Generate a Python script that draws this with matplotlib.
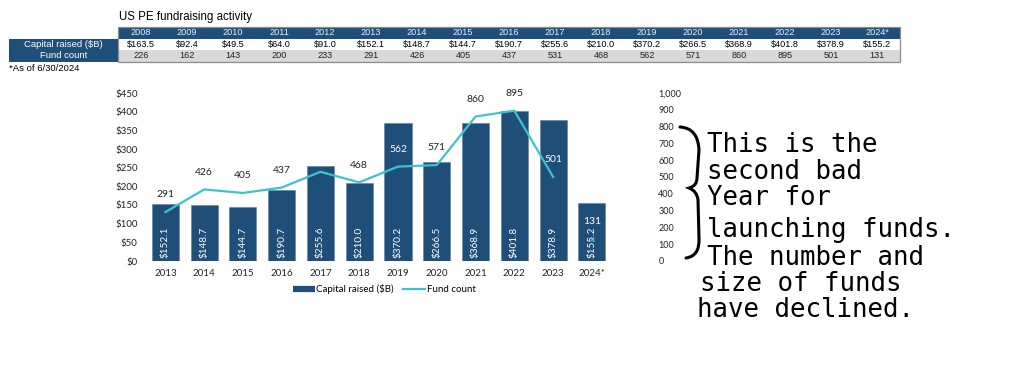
import matplotlib

matplotlib.use("Agg")
import matplotlib.pyplot as plt
from matplotlib.patches import Rectangle, PathPatch
from matplotlib.path import Path
from matplotlib.lines import Line2D
from matplotlib.ticker import FuncFormatter, MultipleLocator

# --------------------------------------------------------------------------- #
# data
# --------------------------------------------------------------------------- #
table_years = ["2008", "2009", "2010", "2011", "2012", "2013", "2014", "2015", "2016",
               "2017", "2018", "2019", "2020", "2021", "2022", "2023", "2024*"]
table_capital = [163.5, 92.4, 49.5, 64.0, 91.0, 152.1, 148.7, 144.7, 190.7,
                 255.6, 210.0, 370.2, 266.5, 368.9, 401.8, 378.9, 155.2]
table_funds = [226, 162, 143, 200, 233, 291, 426, 405, 437,
               531, 468, 562, 571, 860, 895, 501, 131]

chart_years = ["2013", "2014", "2015", "2016", "2017", "2018",
               "2019", "2020", "2021", "2022", "2023", "2024*"]
capital = [152.1, 148.7, 144.7, 190.7, 255.6, 210.0, 370.2, 266.5, 368.9, 401.8, 378.9, 155.2]
fund_count = [291, 426, 405, 437, 531, 468, 562, 571, 860, 895, 501, 131]
fund_labels = [291, 426, 405, 437, None, 468, 562, 571, 860, 895, 501, 131]

note_lines = ["This is the", "second bad", "Year for", "launching funds.",
              "The number and", "size of funds", "have declined."]

NAVY = "#1F4E79"
CYAN = "#3EC3CB"
GRAY = "#D9D9D9"
W, H = 1022, 390

fig = plt.figure(figsize=(W / 100, H / 100), dpi=100)

# overlay in pixel coordinates for the table and the hand note
bg = fig.add_axes([0, 0, 1, 1])
bg.set_xlim(0, W)
bg.set_ylim(H, 0)
bg.set_axis_off()

TF = "Liberation Sans"
bg.text(119, 17, "US PE fundraising activity", fontsize=8.3, family=TF,
        va="center", ha="left")

# table
lab_x0, lab_x1 = 9, 118
col_w = (900 - lab_x1) / len(table_years)
rows = [(27, 38.5), (38.5, 50), (50, 61.5)]
bg.add_patch(Rectangle((lab_x0, rows[1][0]), lab_x1 - lab_x0, rows[2][1] - rows[1][0],
                       color=NAVY, lw=0))
bg.text((lab_x0 + lab_x1) / 2, sum(rows[1]) / 2, "Capital raised ($B)", color="white",
        fontsize=6.8, family=TF, ha="center", va="center")
bg.text((lab_x0 + lab_x1) / 2, sum(rows[2]) / 2, "Fund count", color="white",
        fontsize=6.8, family=TF, ha="center", va="center")
bg.add_patch(Rectangle((lab_x1, rows[0][0]), 900 - lab_x1, rows[0][1] - rows[0][0],
                       color=NAVY, lw=0))
bg.add_patch(Rectangle((lab_x1, rows[2][0]), 900 - lab_x1, rows[2][1] - rows[2][0],
                       color=GRAY, lw=0))
bg.add_patch(Rectangle((lab_x1, rows[0][0]), 900 - lab_x1, rows[2][1] - rows[0][0],
                       fill=False, ec="#8C8C8C", lw=0.9))
for j, (yr, cap, fc) in enumerate(zip(table_years, table_capital, table_funds)):
    cx = lab_x1 + (j + 0.5) * col_w
    bg.text(cx, sum(rows[0]) / 2, yr, color="#E8EEF5", fontsize=6.6, family=TF,
            ha="center", va="center")
    bg.text(cx, sum(rows[1]) / 2, f"${cap:.1f}", fontsize=6.6, family=TF,
            ha="center", va="center")
    bg.text(cx, sum(rows[2]) / 2, f"{fc}", fontsize=6.6, family=TF,
            ha="center", va="center", color="#222222")
bg.text(9, 68.5, "*As of 6/30/2024", fontsize=6.8, family=TF, ha="left", va="center")

# --------------------------------------------------------------------------- #
# chart
# --------------------------------------------------------------------------- #
CF = "Lato"
left, right, top, bottom = 146, 650, 93, 261
ax = fig.add_axes([left / W, 1 - bottom / H, (right - left) / W, (bottom - top) / H])
x = list(range(len(chart_years)))
ax.bar(x, capital, width=0.7, color=NAVY, ec="#5B7FA6", lw=0.4, zorder=2)
ax.set_xlim(-0.5, 12.5)
ax.set_ylim(0, 450)
ax.yaxis.set_major_locator(MultipleLocator(50))
ax.yaxis.set_major_formatter(FuncFormatter(lambda v, p: f"${v:.0f}"))
ax.set_xticks(x, chart_years)
for s in ax.spines.values():
    s.set_visible(False)
ax.tick_params(length=0, labelsize=7, labelcolor="#222222")
ax.tick_params(axis="y", pad=6)
ax.tick_params(axis="x", pad=6)
for lab in ax.get_xticklabels() + ax.get_yticklabels():
    lab.set_family(CF)

for xi, v in zip(x, capital):
    ax.annotate(f"${v:.1f}", (xi, 0), xytext=(0, 2.5), textcoords="offset points",
                rotation=90, ha="center", va="bottom", color="white", fontsize=7.2,
                family=CF, zorder=4)

ax2 = ax.twinx()
ax2.set_ylim(0, 1000)
ax2.yaxis.set_major_locator(MultipleLocator(100))
ax2.yaxis.set_major_formatter(FuncFormatter(lambda v, p: f"{v:,.0f}"))
for s in ax2.spines.values():
    s.set_visible(False)
ax2.tick_params(length=0, labelsize=6.5, labelcolor="#222222", pad=6)
for lab in ax2.get_yticklabels():
    lab.set_family(CF)
ax2.plot(x[:-1], fund_count[:-1], color=CYAN, lw=1.6, zorder=3)
ax2.plot(x[-1], fund_count[-1], marker="x", color=CYAN, ms=2.5, mew=0.8)

OFF = 12.5  # label offset above the point, in points
for xi, v, cap in zip(x, fund_labels, capital):
    if v is None:
        continue
    # white if the label sits over its bar
    lab_level = v / 1000 * 450 + OFF / 0.75 / 168 * 450
    col = "white" if lab_level < cap else "#222222"
    ax2.annotate(f"{v}", (xi, v), xytext=(0, OFF), textcoords="offset points",
                 ha="center", va="center", fontsize=7.5, family=CF, color=col, zorder=5)

handles = [Line2D([], [], color=NAVY, lw=4.5, solid_capstyle="butt"),
           Line2D([], [], color=CYAN, lw=1.6)]
fig.legend(handles, ["Capital raised ($B)", "Fund count"], loc="center",
           bbox_to_anchor=(384 / W, 1 - 289 / H), ncol=2, frameon=False,
           prop={"family": CF, "size": 7}, handlelength=2.3, handletextpad=0.15,
           columnspacing=0.9)

# --------------------------------------------------------------------------- #
# hand-written note
# --------------------------------------------------------------------------- #
brace = Path(
    [(680, 127), (698, 128), (699, 150),
     (697, 178), (697, 186), (689, 188),
     (697, 191), (698, 200),
     (699, 238), (700, 256), (686, 258)],
    [Path.MOVETO, Path.CURVE3, Path.CURVE3,
     Path.LINETO, Path.CURVE3, Path.CURVE3,
     Path.CURVE3, Path.CURVE3,
     Path.LINETO, Path.CURVE3, Path.CURVE3],
)
bg.add_patch(PathPatch(brace, fill=False, lw=2.2, ec="black", capstyle="round"))

note_x = [707, 707, 707, 707, 707, 700, 697]
note_y = [145, 172, 198, 230, 258, 284, 310]
for t, nx, ny in zip(note_lines, note_x, note_y):
    bg.text(nx, ny, t, fontsize=18.5, family="DejaVu Sans Mono",
            ha="left", va="center", color="black")

fig.savefig("out.png", dpi=100)
